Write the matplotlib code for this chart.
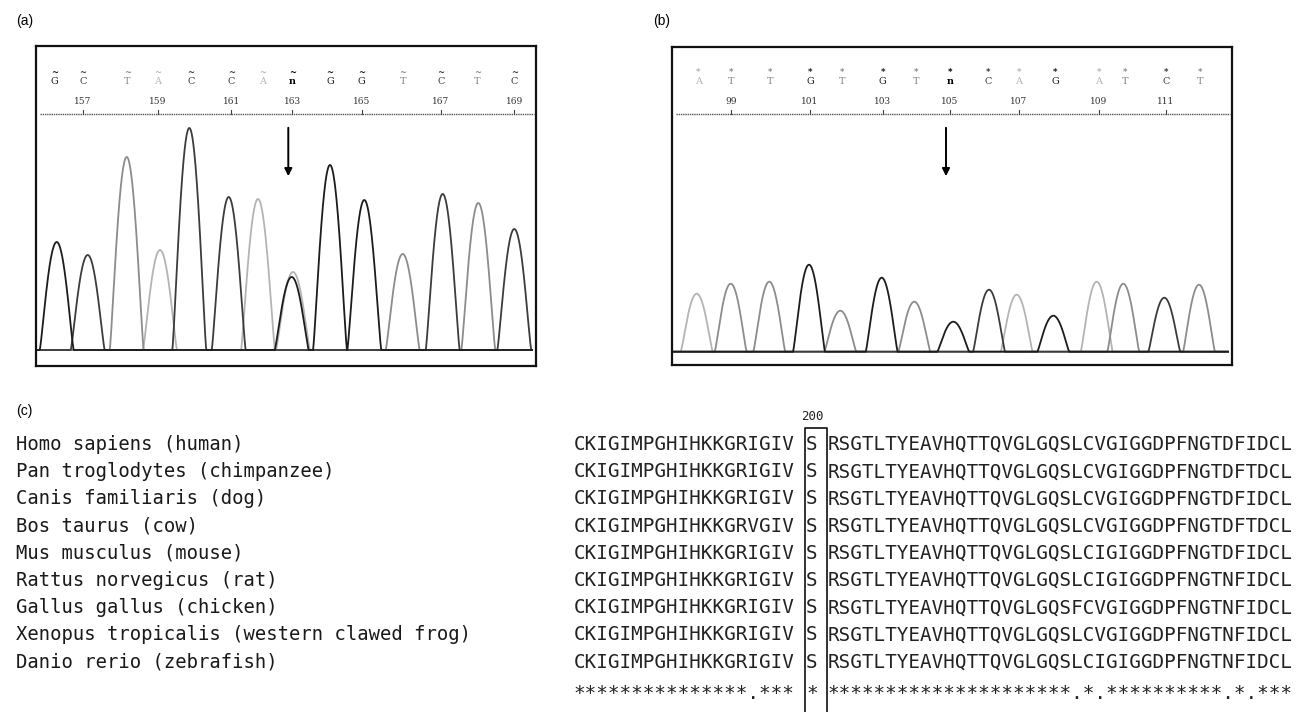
import numpy as np
import matplotlib.pyplot as plt

W, H = 1298, 712

# ---- (a) chromatogram, positions in scan units (left edge of box = 0)
a_bases = ['G', 'C', 'T', 'A', 'C', 'C', 'A', 'n', 'G', 'G', 'T', 'C', 'T', 'C']
a_base_x = [18.3, 46.7, 91.3, 121.7, 154.7, 195.3, 226.7, 256.3, 294, 325.7, 366.7, 404.7, 441.3, 478.3]
a_first_num = 156
a_peak_x = [20.7, 51.7, 90.7, 124, 153.3, 192.7, 222, 255.7, 257, 294, 328.3, 366.7, 406.7, 442.3, 478.3]
a_peak_h = [108, 95, 193, 100, 222, 153, 151, 73, 78, 185, 150, 96, 156, 147, 121]
a_peak_ch = ['G', 'C', 'T', 'A', 'C', 'C', 'A', 'G', 'A', 'G', 'G', 'T', 'C', 'T', 'C']
a_arrow_x = 252.3

# ---- (b) chromatogram
b_bases = ['A', 'T', 'T', 'G', 'T', 'G', 'T', 'n', 'C', 'A', 'G', 'A', 'T', 'C', 'T']
b_base_x = [26.3, 58.7, 98, 138, 169.7, 210.7, 244, 278, 316.3, 347, 383, 427, 453, 493.7, 528]
b_first_num = 98
b_peak_x = [24.7, 58.7, 97.3, 137, 168.3, 209.7, 242.3, 281.3, 317, 344.7, 381.3, 424.7, 451.3, 492.3, 527]
b_peak_h = [58, 68, 70, 87, 41, 74, 50, 30, 62, 57, 36, 70, 68, 54, 67]
b_peak_ch = ['A', 'T', 'T', 'G', 'T', 'G', 'T', 'G', 'C', 'A', 'G', 'A', 'T', 'C', 'T']
b_arrow_x = 274

# ---- (c) alignment
species = ['Homo sapiens (human)', 'Pan troglodytes (chimpanzee)', 'Canis familiaris (dog)',
           'Bos taurus (cow)', 'Mus musculus (mouse)', 'Rattus norvegicus (rat)',
           'Gallus gallus (chicken)', 'Xenopus tropicalis (western clawed frog)',
           'Danio rerio (zebrafish)']
seq_left = ['CKIGIMPGHIHKKGRIGIV', 'CKIGIMPGHIHKKGRIGIV', 'CKIGIMPGHIHKKGRIGIV',
            'CKIGIMPGHIHKKGRVGIV', 'CKIGIMPGHIHKKGRIGIV', 'CKIGIMPGHIHKKGRIGIV',
            'CKIGIMPGHIHKKGRIGIV', 'CKIGIMPGHIHKKGRIGIV', 'CKIGIMPGHIHKKGRIGIV']
seq_site = ['S'] * 9
seq_right = ['RSGTLTYEAVHQTTQVGLGQSLCVGIGGDPFNGTDFIDCL',
             'RSGTLTYEAVHQTTQVGLGQSLCVGIGGDPFNGTDFTDCL',
             'RSGTLTYEAVHQTTQVGLGQSLCVGIGGDPFNGTDFIDCL',
             'RSGTLTYEAVHQTTQVGLGQSLCVGIGGDPFNGTDFTDCL',
             'RSGTLTYEAVHQTTQVGLGQSLCIGIGGDPFNGTDFIDCL',
             'RSGTLTYEAVHQTTQVGLGQSLCIGIGGDPFNGTNFIDCL',
             'RSGTLTYEAVHQTTQVGLGQSFCVGIGGDPFNGTNFIDCL',
             'RSGTLTYEAVHQTTQVGLGQSLCVGIGGDPFNGTNFIDCL',
             'RSGTLTYEAVHQTTQVGLGQSLCIGIGGDPFNGTNFIDCL']
cons_left = '***************.***'
cons_site = '*'
cons_right = '*********************.*.**********.*.***'
site_number = '200'

colors = {'G': '#1c1c1c', 'C': '#3c3c3c', 'T': '#8c8c8c', 'A': '#b4b4b4', 'n': '#000000'}

fig = plt.figure(figsize=(W / 100, H / 100), dpi=100)
ax0 = fig.add_axes([0, 0, 1, 1])
ax0.set_xlim(0, W)
ax0.set_ylim(H, 0)
ax0.axis('off')


def peak(x, p, h, w):
    u = np.clip((x - p) / w, -1, 1)
    return h * (1 - u ** 2) ** 1.3


def chromatogram(box, bases, base_x, first_num, px, ph, pch, arrow_x, w, mark):
    x0, y0, x1, y1, base_y = box
    ax = fig.add_axes([x0 / W, 1 - y1 / H, (x1 - x0) / W, (y1 - y0) / H])
    width = x1 - x0
    ax.set_xlim(0, width)
    ax.set_ylim(base_y - y1, base_y - y0)
    ax.set_xticks([])
    ax.set_yticks([])
    for s in ax.spines.values():
        s.set_linewidth(1.6)
        s.set_color('#111111')

    xs = np.linspace(2, width - 4, 3000)
    for ch in ['A', 'T', 'C', 'G']:
        trace = np.zeros_like(xs)
        for p, h, c in zip(px, ph, pch):
            if c == ch:
                trace += peak(xs, p, h, w)
        ax.plot(xs, trace, color=colors[ch], lw=1.3)

    sep = base_y - 114
    ax.plot([4, width - 2], [sep, sep], color='#555555', lw=1.0, ls=(0, (1, 0.6)))
    for i, (b, bx) in enumerate(zip(bases, base_x)):
        ax.text(bx, sep + 32, b, ha='center', va='center', fontsize=7,
                family='DejaVu Serif', color=colors[b],
                fontweight='bold' if b == 'n' else 'normal')
        ax.text(bx, sep + 42, mark, ha='center', va='center', fontsize=6,
                color=colors[b], fontweight='bold')
        if i % 2 == 1:
            ax.text(bx, sep + 12, str(first_num + i), ha='center', va='center',
                    fontsize=6.5, family='DejaVu Serif', color='#333333')
            ax.plot([bx, bx], [sep, sep + 4], color='#444444', lw=0.8)

    ax.annotate('', xy=(arrow_x, base_y - 179), xytext=(arrow_x, base_y - 125),
                arrowprops=dict(arrowstyle='-|>', color='black', lw=1.4, mutation_scale=11))
    return ax


chromatogram((36, 46, 536, 366, 350), a_bases, a_base_x, a_first_num,
             a_peak_x, a_peak_h, a_peak_ch, a_arrow_x, 17, '~')
chromatogram((672, 47, 1232, 365, 351.7), b_bases, b_base_x, b_first_num,
             b_peak_x, b_peak_h, b_peak_ch, b_arrow_x, 16, '*')

lab = dict(fontsize=10, family='Liberation Sans', va='center', ha='left')
ax0.text(16, 21, '(a)', **lab)
ax0.text(653, 21, '(b)', **lab)
ax0.text(16, 411, '(c)', **lab)

mono = 'DejaVu Sans Mono'
seq_kw = dict(fontsize=13.9, family=mono, va='baseline', ha='center', color='#222222')
row_y0, row_dy = 443, 27.2
for i, name in enumerate(species):
    y = row_y0 + i * row_dy + 7
    ax0.text(16, y, name, fontsize=13.6, family=mono, va='baseline', ha='left', color='#1a1a1a')
    ax0.text(684.2, y, seq_left[i], **seq_kw)
    ax0.text(812, y, seq_site[i], **seq_kw)
    ax0.text(1060.2, y, seq_right[i], **seq_kw)

yc = row_y0 + len(species) * row_dy + 11
ax0.text(684.2, yc, cons_left, **seq_kw)
ax0.text(812, yc, cons_site, **seq_kw)
ax0.text(1060.2, yc, cons_right, **seq_kw)

ax0.text(812, 416, site_number, fontsize=9, family=mono, va='center', ha='center', color='#222222')
ax0.plot([805, 805, 827, 827], [H, 428, 428, H], color='#111111', lw=1.2)

fig.savefig('out.png', dpi=100)
